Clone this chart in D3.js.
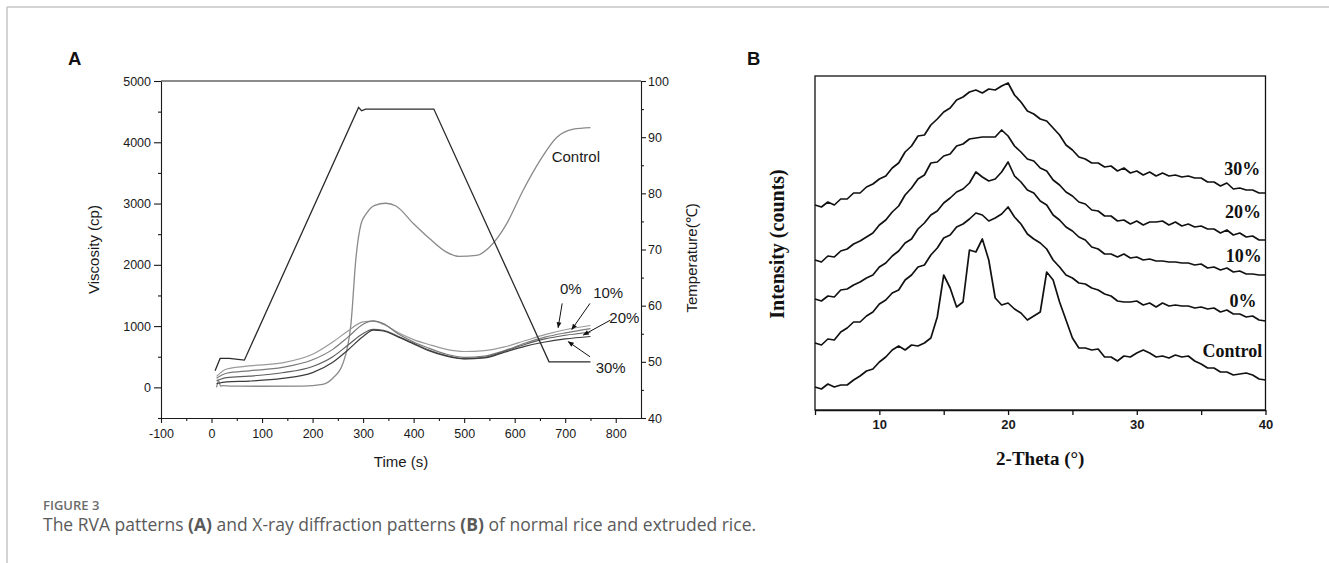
<!DOCTYPE html>
<html>
<head>
  <meta charset="utf-8">
  <script src="https://cdnjs.cloudflare.com/ajax/libs/d3/7.8.5/d3.min.js"></script>
  <style>
    body { margin: 0; background: #fff; }
    svg { display: block; }
  </style>
</head>
<body>
<svg id="fig" width="1329" height="563"></svg>
<script>
"use strict";

/* ---------- panel A : RVA data ---------- */
var tempTime  = [7, 17, 35, 65, 291, 297, 305, 440, 668, 750];
var tempValue = [48.4, 50.6, 50.6, 50.3, 95.3, 94.7, 95.0, 95.0, 50.0, 50.0];

var controlTime = [10, 14, 18, 22, 40, 100, 180, 220, 240, 260, 276, 286, 296, 306, 322, 345, 365, 400, 432, 465, 490, 524, 550, 584, 616, 650, 683, 716, 750];
var controlVisc = [0, 110, 20, 30, 20, 18, 20, 50, 150, 390, 1040, 2125, 2670, 2830, 2966, 3005, 2960, 2670, 2424, 2207, 2137, 2153, 2288, 2669, 3205, 3700, 4078, 4215, 4240];

var sampleTime = [10, 30, 75, 140, 200, 240, 270, 300, 320, 340, 370, 400, 430, 465, 500, 540, 580, 620, 660, 700, 750];
var visc0  = [180, 300, 350, 400, 540, 740, 920, 1070, 1080, 1030, 890, 780, 700, 620, 585, 600, 660, 760, 860, 940, 1010];
var visc10 = [150, 230, 270, 325, 450, 620, 820, 1030, 1085, 1040, 870, 740, 640, 540, 490, 510, 600, 720, 820, 890, 960];
var visc20 = [110, 160, 184, 238, 340, 500, 690, 880, 945, 930, 830, 720, 610, 520, 470, 490, 590, 700, 790, 850, 900];
var visc30 = [60, 90, 103, 146, 240, 410, 610, 830, 935, 920, 820, 710, 600, 510, 465, 480, 575, 670, 740, 790, 830];

var timeTicks = [-100, 0, 100, 200, 300, 400, 500, 600, 700, 800];
var viscTicks = [0, 1000, 2000, 3000, 4000, 5000];
var tempTicks = [40, 50, 60, 70, 80, 90, 100];

var annotText = ["Control", "0%", "10%", "20%", "30%"];
var annotTime = [721, 711, 785, 817, 790];
var annotVisc = [3678, 1523, 1453, 1055, 233];
// arrows: [t1, v1, t2, v2]
var arrows = [[694, 1370, 686, 975], [749, 1370, 713, 945], [789, 1095, 736, 855], [749, 500, 706, 745]];

/* ---------- panel B : XRD data ---------- */
var theta = [5, 5.5, 6, 6.5, 7, 7.5, 8, 8.5, 9, 9.5,
  10, 10.5, 11, 11.5, 12, 12.5, 13, 13.5, 14, 14.5,
  15, 15.5, 16, 16.5, 17, 17.5, 18, 18.5, 19, 19.5,
  20, 20.5, 21, 21.5, 22, 22.5, 23, 23.5, 24, 24.5,
  25, 25.5, 26, 26.5, 27, 27.5, 28, 28.5, 29, 29.5,
  30, 30.5, 31, 31.5, 32, 32.5, 33, 33.5, 34, 34.5,
  35, 35.5, 36, 36.5, 37, 37.5, 38, 38.5, 39, 39.5, 40];

var xrd30 = [205, 203, 208, 205, 211, 211, 217, 217, 223, 226,
  231, 234, 242, 247, 258, 264, 274, 275, 285, 291,
  298, 302, 310, 313, 318, 320, 317, 321, 320, 324,
  327, 315, 308, 299, 296, 291, 289, 282, 275, 265,
  260, 253, 251, 247, 247, 243, 244, 239, 242, 237,
  239, 235, 238, 234, 237, 234, 235, 233, 234, 232,
  232, 228, 228, 224, 227, 221, 222, 220, 220, 217, 217];

var xrd20 = [150, 148, 154, 153, 159, 161, 166, 169, 173, 177,
  185, 190, 198, 204, 215, 222, 231, 235, 247, 248,
  254, 256, 264, 266, 271, 272, 273, 273, 273, 280,
  274, 264, 258, 251, 249, 242, 239, 230, 225, 218,
  214, 208, 206, 200, 199, 194, 194, 189, 190, 186,
  189, 185, 188, 188, 189, 185, 188, 184, 186, 183,
  184, 181, 181, 177, 180, 175, 177, 173, 174, 170, 170];

var xrd10 = [111, 109, 114, 113, 120, 121, 125, 128, 132, 135,
  143, 147, 154, 159, 167, 171, 181, 187, 195, 199,
  207, 212, 218, 221, 227, 238, 233, 229, 231, 238,
  248, 234, 228, 220, 217, 209, 205, 195, 190, 183,
  179, 173, 170, 163, 161, 156, 156, 153, 156, 152,
  153, 150, 151, 149, 149, 148, 148, 147, 147, 145,
  146, 142, 143, 140, 142, 138, 139, 136, 136, 135, 135];

var xrd0 = [67, 65, 71, 70, 78, 82, 88, 88, 94, 98,
  106, 110, 117, 120, 130, 135, 143, 145, 155, 162,
  172, 175, 183, 186, 191, 197, 195, 189, 192, 196,
  203, 193, 186, 176, 171, 167, 161, 150, 143, 135,
  132, 127, 126, 122, 120, 116, 114, 109, 108, 108,
  109, 105, 107, 103, 107, 104, 105, 104, 104, 102,
  103, 101, 102, 98, 100, 96, 96, 93, 94, 90, 89];

var xrdControl = [23, 21, 26, 23, 25, 25, 30, 34, 39, 41,
  48, 53, 60, 64, 60, 65, 64, 67, 72, 93,
  135, 122, 103, 108, 160, 158, 171, 150, 112, 105,
  107, 101, 97, 90, 94, 98, 138, 130, 108, 90,
  72, 62, 62, 60, 61, 53, 53, 49, 54, 53,
  57, 60, 57, 53, 54, 52, 55, 53, 54, 49,
  46, 42, 42, 38, 38, 35, 36, 37, 35, 31, 30];

var xrdTicks = [5, 10, 15, 20, 25, 30, 35, 40];
var xrdNames = ["30%", "20%", "10%", "0%", "Control"];
var xrdLabelTheta = [39.6, 39.65, 39.7, 39.3, 39.75];
var xrdLabelI = [235, 192, 148, 103, 53];

/* ---------- drawing ---------- */
var svg = d3.select("#fig");
var sans = "'Liberation Sans', Arial, sans-serif";
var serif = "'Liberation Serif', 'Times New Roman', serif";
var plain = function (d) { return String(d); };

// page border
svg.append("line").attr("x1", 7).attr("y1", 7).attr("x2", 1329).attr("y2", 7)
  .attr("stroke", "#c4c4c4").attr("stroke-width", 1.5);
svg.append("line").attr("x1", 7).attr("y1", 7).attr("x2", 7).attr("y2", 563)
  .attr("stroke", "#c4c4c4").attr("stroke-width", 1.5);

var defs = svg.append("defs");
defs.append("marker").attr("id", "arr")
  .attr("viewBox", "0 0 10 10").attr("refX", 9).attr("refY", 5)
  .attr("markerWidth", 7).attr("markerHeight", 6).attr("orient", "auto")
  .append("path").attr("d", "M0,1L10,5L0,9Z").attr("fill", "#111");

function styleAxis(g, size, weight, fam) {
  g.attr("font-family", fam).attr("font-size", size).attr("font-weight", weight);
  g.selectAll("text").attr("fill", "#1a1a1a");
  g.selectAll("path,line").attr("stroke", "#1a1a1a").attr("stroke-width", 1.1);
}

/* ===== Panel A ===== */
var xA = d3.scaleLinear().domain([-100, 850]).range([161, 641]);
var yA = d3.scaleLinear().domain([-500, 5000]).range([418, 81]);
var tA = d3.scaleLinear().domain([40, 100]).range([418, 81]);

var gA = svg.append("g");

// frame top
gA.append("line").attr("x1", xA(-100)).attr("x2", xA(850)).attr("y1", yA(5000)).attr("y2", yA(5000))
  .attr("stroke", "#1a1a1a").attr("stroke-width", 1.1);

var bx = gA.append("g").attr("transform", "translate(0," + yA(-500) + ")")
  .call(d3.axisBottom(xA).tickValues(timeTicks).tickFormat(plain).tickSize(5).tickSizeOuter(0).tickPadding(6));
styleAxis(bx, 12.5, "normal", sans);
var bxm = gA.append("g").attr("transform", "translate(0," + yA(-500) + ")")
  .call(d3.axisBottom(xA).tickValues([-50, 50, 150, 250, 350, 450, 550, 650, 750]).tickSize(3).tickFormat(""));
styleAxis(bxm, 12, "normal", sans); bxm.select(".domain").remove();

var ly = gA.append("g").attr("transform", "translate(" + xA(-100) + ",0)")
  .call(d3.axisLeft(yA).tickValues(viscTicks).tickFormat(plain).tickSize(7).tickSizeOuter(0).tickPadding(3));
styleAxis(ly, 12.5, "normal", sans);
var lym = gA.append("g").attr("transform", "translate(" + xA(-100) + ",0)")
  .call(d3.axisLeft(yA).tickValues([-500, 500, 1500, 2500, 3500, 4500]).tickSize(3).tickFormat(""));
styleAxis(lym, 12, "normal", sans); lym.select(".domain").remove();

var ry = gA.append("g").attr("transform", "translate(" + xA(850) + ",0)")
  .call(d3.axisRight(tA).tickValues(tempTicks).tickFormat(plain).tickSize(5).tickSizeOuter(0).tickPadding(2));
styleAxis(ry, 12.5, "normal", sans);
var rym = gA.append("g").attr("transform", "translate(" + xA(850) + ",0)")
  .call(d3.axisRight(tA).tickValues([45, 55, 65, 75, 85, 95]).tickSize(3).tickFormat(""));
styleAxis(rym, 12, "normal", sans); rym.select(".domain").remove();

// axis titles
gA.append("text").attr("x", (xA(-100) + xA(850)) / 2).attr("y", 467)
  .attr("text-anchor", "middle").attr("font-family", sans).attr("font-size", 15)
  .attr("fill", "#1a1a1a").text("Time (s)");
gA.append("text").attr("transform", "translate(99," + yA(2250) + ") rotate(-90)")
  .attr("text-anchor", "middle").attr("font-family", sans).attr("font-size", 15)
  .attr("fill", "#1a1a1a").text("Viscosity (cp)");
gA.append("text").attr("transform", "translate(697," + tA(68.5) + ") rotate(-90)")
  .attr("text-anchor", "middle").attr("font-family", sans).attr("font-size", 15)
  .attr("fill", "#1a1a1a").text("Temperature(\u2103)");

// curves
var lineT = d3.line().x(function (d) { return xA(d[0]); }).y(function (d) { return tA(d[1]); });
var lineV = d3.line().curve(d3.curveMonotoneX)
  .x(function (d) { return xA(d[0]); }).y(function (d) { return yA(d[1]); });

function zip(a, b) { return a.map(function (v, i) { return [v, b[i]]; }); }

gA.append("path").datum(zip(controlTime, controlVisc)).attr("d", lineV)
  .attr("fill", "none").attr("stroke", "#8a8a8a").attr("stroke-width", 1.3);

var sampleSets = [visc0, visc10, visc20, visc30];
var sampleColors = ["#9a9a9a", "#7a7a7a", "#5e5e5e", "#3c3c3c"];
sampleSets.forEach(function (s, i) {
  gA.append("path").datum(zip(sampleTime, s)).attr("d", lineV)
    .attr("fill", "none").attr("stroke", sampleColors[i]).attr("stroke-width", 1.2);
});

gA.append("path").datum(zip(tempTime, tempValue)).attr("d", lineT)
  .attr("fill", "none").attr("stroke", "#2a2a2a").attr("stroke-width", 1.3);

// annotations
annotText.forEach(function (t, i) {
  gA.append("text").attr("x", xA(annotTime[i])).attr("y", yA(annotVisc[i]))
    .attr("text-anchor", "middle").attr("font-family", sans).attr("font-size", 15)
    .attr("fill", "#1a1a1a").text(t);
});
arrows.forEach(function (a) {
  gA.append("line").attr("x1", xA(a[0])).attr("y1", yA(a[1]))
    .attr("x2", xA(a[2])).attr("y2", yA(a[3]))
    .attr("stroke", "#111").attr("stroke-width", 1).attr("marker-end", "url(#arr)");
});

svg.append("text").attr("x", 68).attr("y", 65).attr("font-family", sans)
  .attr("font-weight", "bold").attr("font-size", 18.5).attr("fill", "#111").text("A");

/* ===== Panel B ===== */
var xB = d3.scaleLinear().domain([5, 40]).range([815, 1265.5]);
var yB = d3.scaleLinear().domain([0, 334]).range([410, 76]);
var gB = svg.append("g");

gB.append("rect").attr("x", xB(5)).attr("y", yB(334))
  .attr("width", xB(40) - xB(5)).attr("height", yB(0) - yB(334))
  .attr("fill", "none").attr("stroke", "#111").attr("stroke-width", 1.3);

var bxB = gB.append("g").attr("transform", "translate(0," + yB(0) + ")")
  .call(d3.axisBottom(xB).tickValues(xrdTicks).tickSize(5).tickSizeOuter(0).tickPadding(5)
    .tickFormat(function (d) { return d % 10 === 0 ? String(d) : ""; }));
styleAxis(bxB, 13, "bold", sans);
bxB.selectAll("path,line").attr("stroke", "#111").attr("stroke-width", 1.3);

var lineB = d3.line().x(function (d) { return xB(d[0]); }).y(function (d) { return yB(d[1]); });
[xrd30, xrd20, xrd10, xrd0, xrdControl].forEach(function (s) {
  gB.append("path").datum(zip(theta, s)).attr("d", lineB)
    .attr("fill", "none").attr("stroke", "#111").attr("stroke-width", 1.7)
    .attr("stroke-linejoin", "round");
});

xrdNames.forEach(function (n, i) {
  gB.append("text").attr("x", xB(xrdLabelTheta[i])).attr("y", yB(xrdLabelI[i]))
    .attr("text-anchor", "end").attr("font-family", serif).attr("font-weight", "bold")
    .attr("font-size", 18).attr("fill", "#111").text(n);
});

gB.append("text").attr("x", (xB(5) + xB(40)) / 2).attr("y", 465)
  .attr("text-anchor", "middle").attr("font-family", serif).attr("font-weight", "bold")
  .attr("font-size", 19).attr("fill", "#111").text("2-Theta (\u00b0)");
gB.append("text").attr("transform", "translate(784,244) rotate(-90)")
  .attr("text-anchor", "middle").attr("font-family", serif).attr("font-weight", "bold")
  .attr("font-size", 20).attr("fill", "#111").text("Intensity (counts)");

svg.append("text").attr("x", 747).attr("y", 65).attr("font-family", sans)
  .attr("font-weight", "bold").attr("font-size", 18.5).attr("fill", "#111").text("B");

/* ===== caption ===== */
svg.append("text").attr("x", 43).attr("y", 510).attr("font-family", "'Open Sans', sans-serif")
  .attr("font-weight", 600).attr("font-size", 13).attr("fill", "#6b6b6b").text("FIGURE 3");
var cap = svg.append("text").attr("x", 43).attr("y", 531).attr("font-family", "'Open Sans', sans-serif")
  .attr("font-size", 17.5).attr("fill", "#5a5a5a");
cap.append("tspan").text("The RVA patterns ");
cap.append("tspan").attr("font-weight", "bold").text("(A)");
cap.append("tspan").text(" and X-ray diffraction patterns ");
cap.append("tspan").attr("font-weight", "bold").text("(B)");
cap.append("tspan").text(" of normal rice and extruded rice.");
</script>
</body>
</html>
